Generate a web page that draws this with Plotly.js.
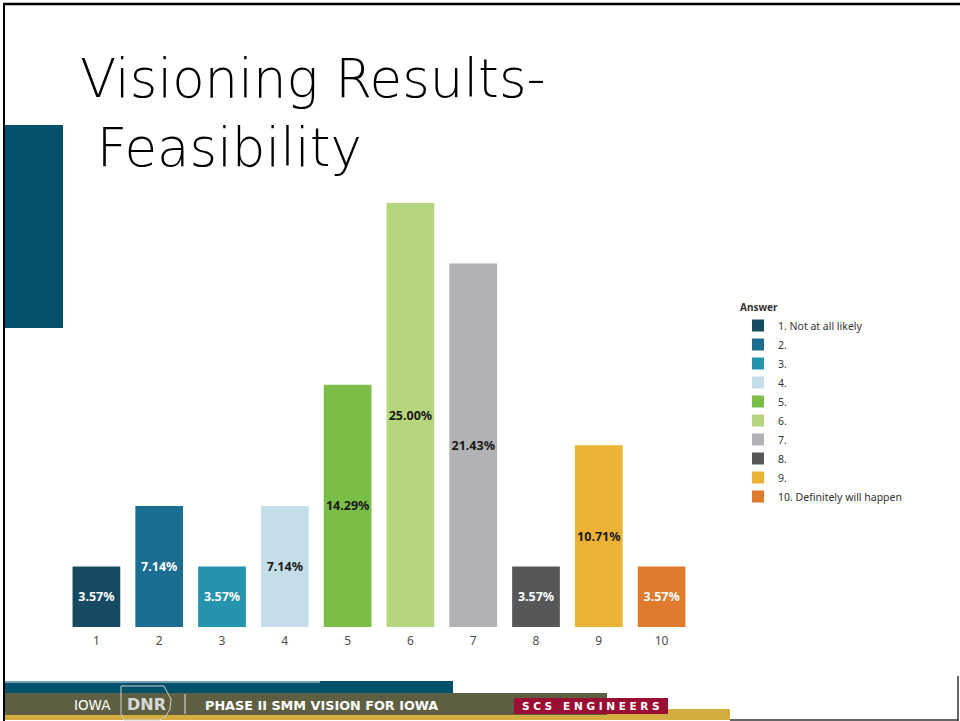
<!DOCTYPE html>
<html>
<head>
<meta charset="utf-8">
<script src="https://cdn.plot.ly/plotly-3.0.1.min.js"></script>
<style>html,body{margin:0;padding:0;background:#fff}#chart{width:960px;height:721px}</style>
</head>
<body>
<div id="chart"></div>
<script>
// ---- data ----
const categories = ['1','2','3','4','5','6','7','8','9','10'];
const legendNames = ['1. Not at all likely','2.','3.','4.','5.','6.','7.','8.','9.','10. Definitely will happen'];
const values = [3.57, 7.14, 3.57, 7.14, 14.29, 25.00, 21.43, 3.57, 10.71, 3.57];
const barColors = ['#164a62','#1b6d92','#2393ae','#c4dde8','#7abd47','#b6d67e','#b0b2b5','#555759','#ebb235','#e07a2d'];
const labelColors = ['#ffffff','#ffffff','#ffffff','#1a1a1a','#1a1a1a','#1a1a1a','#1a1a1a','#ffffff','#1a1a1a','#ffffff'];
const titleText = 'Visioning Results-<br>\u00a0Feasibility';
const legendTitle = 'Answer';
const footerLeft = 'IOWA';
const footerLogo = 'DNR';
const footerMain = 'PHASE II SMM VISION FOR IOWA';
const footerRight = 'S C S   E N G I N E E R S';

// ---- layout geometry (pixels) ----
const ML = 65, MR = 267, MT = 203, MB = 94, WW = 960, HH = 721;
const PW = WW - ML - MR, PH = HH - MT - MB;
const X = px => (px - ML) / PW;
const Y = py => (HH - MB - py) / PH;

const traces = categories.map((c, i) => ({
  type: 'bar',
  x: [c],
  y: [values[i]],
  name: legendNames[i],
  width: 0.76,
  marker: {color: barColors[i], line: {width: 0}},
  text: [values[i].toFixed(2) + '%'],
  textposition: 'inside',
  insidetextanchor: 'middle',
  textangle: 0,
  constraintext: 'none',
  textfont: {family: 'Noto Sans', size: 12.5, weight: 'bold', color: labelColors[i]},
  hoverinfo: 'x+y'
}));

function rect(x0, y0, x1, y1, color) {
  return {type: 'rect', xref: 'paper', yref: 'paper', x0: X(x0), x1: X(x1), y0: Y(y1), y1: Y(y0),
    fillcolor: color, line: {width: 0}, layer: 'below'};
}
function line(x0, y0, x1, y1, color, w) {
  return {type: 'line', xref: 'paper', yref: 'paper', x0: X(x0), x1: X(x1), y0: Y(y0), y1: Y(y1),
    line: {color: color, width: w}, layer: 'above'};
}
function pathOf(pts) {
  return 'M' + pts.map(p => X(p[0]).toFixed(5) + ',' + Y(p[1]).toFixed(5)).join('L') + 'Z';
}

const shapes = [
  // left blue block
  rect(5, 125, 63, 328, '#03506a'),
  // footer
  rect(5, 709, 730, 720, '#d3ad3f'),
  rect(5, 693, 607, 715, '#5e5f42'),
  rect(5, 681, 453, 693, '#03506a'),
  line(5, 682, 320, 682, '#9bbccb', 1.5),
  rect(514, 698, 668, 714, '#9a0e34'),
  line(185, 694, 185, 714, '#e8e8e8', 1),
  {type: 'path', xref: 'paper', yref: 'paper', layer: 'above',
   path: pathOf([[121,686],[164,686],[167,692],[171,699],[170,709],[166,716],[160,720],[124,720],[121,714]]),
   line: {color: '#cfcfcf', width: 1}, fillcolor: 'rgba(0,0,0,0)'},
  // slide border
  line(3, 4, 960, 4, '#000000', 2.5),
  line(4, 3, 4, 721, '#000000', 2),
  line(730, 720, 958, 720, '#333333', 1.5),
  line(958, 676, 958, 721, '#333333', 1.5)
];

const annotations = [
  {xref: 'paper', yref: 'paper', x: X(92), y: Y(705), text: footerLeft, showarrow: false,
   xanchor: 'center', yanchor: 'middle', font: {family: 'DejaVu Sans', size: 13.5, color: '#ffffff'}},
  {xref: 'paper', yref: 'paper', x: X(146), y: Y(704), text: '<b>' + footerLogo + '</b>', showarrow: false,
   xanchor: 'center', yanchor: 'middle', font: {family: 'DejaVu Sans', size: 16, color: '#d8d8d8'}},
  {xref: 'paper', yref: 'paper', x: X(203), y: Y(705), text: '<b>' + footerMain + '</b>', showarrow: false,
   xanchor: 'left', yanchor: 'middle', font: {family: 'DejaVu Sans', size: 12.8, color: '#ffffff'}},
  {xref: 'paper', yref: 'paper', x: X(591), y: Y(706), text: '<b>' + footerRight + '</b>', showarrow: false,
   xanchor: 'center', yanchor: 'middle', font: {family: 'DejaVu Sans', size: 10.5, color: '#ffffff'}}
];

const layout = {
  width: WW, height: HH,
  paper_bgcolor: '#ffffff', plot_bgcolor: '#ffffff',
  margin: {l: ML, r: MR, t: MT, b: MB, autoexpand: false},
  barmode: 'overlay',
  showlegend: true,
  title: {
    text: titleText,
    xref: 'container', yref: 'container',
    x: 80 / WW, xanchor: 'left',
    y: 1 - 97 / HH, yanchor: 'top',
    font: {family: 'DejaVu Sans', weight: 200, size: 53, color: '#000000'}
  },
  xaxis: {
    type: 'category', range: [-0.5, 9.5],
    showgrid: false, zeroline: false, showline: false, ticks: '',
    ticklabelstandoff: 5,
    tickfont: {family: 'Noto Sans', size: 12, color: '#4d4d4d'},
    fixedrange: true
  },
  yaxis: {
    range: [0, 25], showgrid: false, zeroline: false, showline: false,
    showticklabels: false, ticks: '', fixedrange: true
  },
  legend: {
    x: X(738), y: Y(298), xanchor: 'left', yanchor: 'top',
    xref: 'paper', yref: 'paper',
    title: {text: '<b>' + legendTitle + '</b>', side: 'top', font: {family: 'Noto Sans', size: 10, color: '#333333'}},
    font: {family: 'Noto Sans', size: 10.5, color: '#333333'},
    bgcolor: 'rgba(0,0,0,0)', borderwidth: 0,
    itemwidth: 30, tracegroupgap: 0, traceorder: 'normal',
    itemclick: false, itemdoubleclick: false
  },
  shapes: shapes,
  annotations: annotations
};

Plotly.newPlot('chart', traces, layout, {displayModeBar: false, staticPlot: true});
</script>
</body>
</html>
